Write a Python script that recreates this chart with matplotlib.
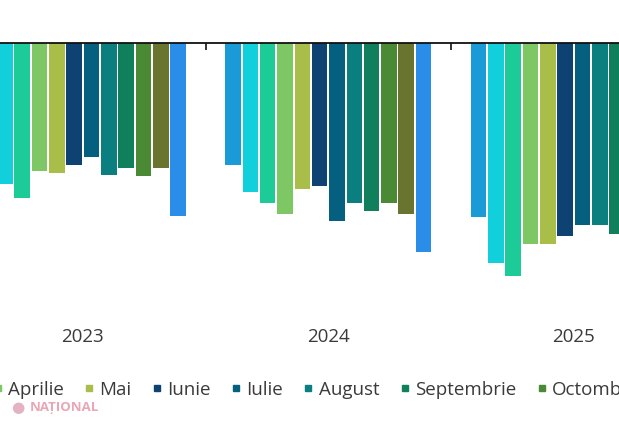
import matplotlib.pyplot as plt
from matplotlib.lines import Line2D
import numpy as np

months = ["Ianuarie", "Februarie", "Martie", "Aprilie", "Mai", "Iunie",
          "Iulie", "August", "Septembrie", "Octombrie", "Noiembrie", "Decembrie"]
colors = ["#1a9ad6", "#12cfdc", "#1ccb98", "#7dc864", "#a8be49", "#0d4272",
          "#055f7f", "#0b7f80", "#0f7f5c", "#4a8a35", "#69742e", "#2a8de8"]
years = ["2023", "2024", "2025"]

# values (negative, arbitrary units); nan = not visible
v2023 = [np.nan, -14.1, -15.5, -12.8, -13.0, -12.2, -11.4, -13.2, -12.5, -13.3, -12.5, -17.3]
v2024 = [-12.2, -14.9, -16.0, -17.1, -14.6, -14.3, -17.8, -16.0, -16.8, -16.0, -17.1, -20.9]
v2025 = [-17.4, -22.0, -23.3, -20.1, -20.1, -19.3, -18.2, -18.2, -19.1, np.nan, np.nan, np.nan]
values = [v2023, v2024, v2025]

group_step = 14.17
bar_w = 0.9
font = "Open Sans"

fig = plt.figure(figsize=(6.19, 4.21), dpi=100)
ax = fig.add_axes([0, 0.228, 1, 0.670])

for g, vals in enumerate(values):
    x = g * group_step + np.arange(len(months))
    ax.bar(x, vals, width=bar_w, color=colors, linewidth=0)

ax.set_xlim(0.716, 36.45)
ax.set_ylim(-28.2, 0)

for side in ["left", "right", "bottom"]:
    ax.spines[side].set_visible(False)
ax.spines["top"].set_color("#111111")
ax.spines["top"].set_linewidth(1.3)
ax.set_yticks([])

centers = [g * group_step + 5.5 for g in range(len(years))]
ax.set_xticks(centers)
ax.set_xticklabels(years, fontsize=13.5, color="#3a3a3a", family=font)
ax.tick_params(axis="x", which="major", length=0, pad=2)

bounds = [g * group_step + 11 + (group_step - 11) / 2 for g in range(len(years) - 1)]
ax.set_xticks(bounds, minor=True)
ax.tick_params(axis="x", which="minor", bottom=False, top=True, direction="in",
               length=5, width=1.2, color="#111111")

handles = [Line2D([], [], marker="s", linestyle="", markersize=5,
                  markerfacecolor=c, markeredgecolor=c) for c in colors]
leg_y = 1 - 390 / 421
leg = fig.legend(handles, months, loc="center left", bbox_to_anchor=(0, leg_y),
                 ncol=12, frameon=False, handlelength=0.5, handletextpad=0.3,
                 columnspacing=1.1, prop={"family": font, "size": 13.5},
                 labelcolor="#3a3a3a")
fig.canvas.draw()
bb = leg.get_texts()[3].get_window_extent()
shift = (8 - bb.x0) / fig.bbox.width
leg.set_bbox_to_anchor((shift, leg_y), transform=fig.transFigure)

# watermark
fig.text(30 / 619, 1 - 407 / 421, "NAȚIONAL", fontsize=9.5, fontweight="bold",
         color="#e8a6b6", va="center", family=font)
fig.text(11 / 619, 1 - 407 / 421, "●", fontsize=11, color="#e3b3c3", va="center",
         family=["DejaVu Sans"])

fig.savefig("out.png", dpi=100)
